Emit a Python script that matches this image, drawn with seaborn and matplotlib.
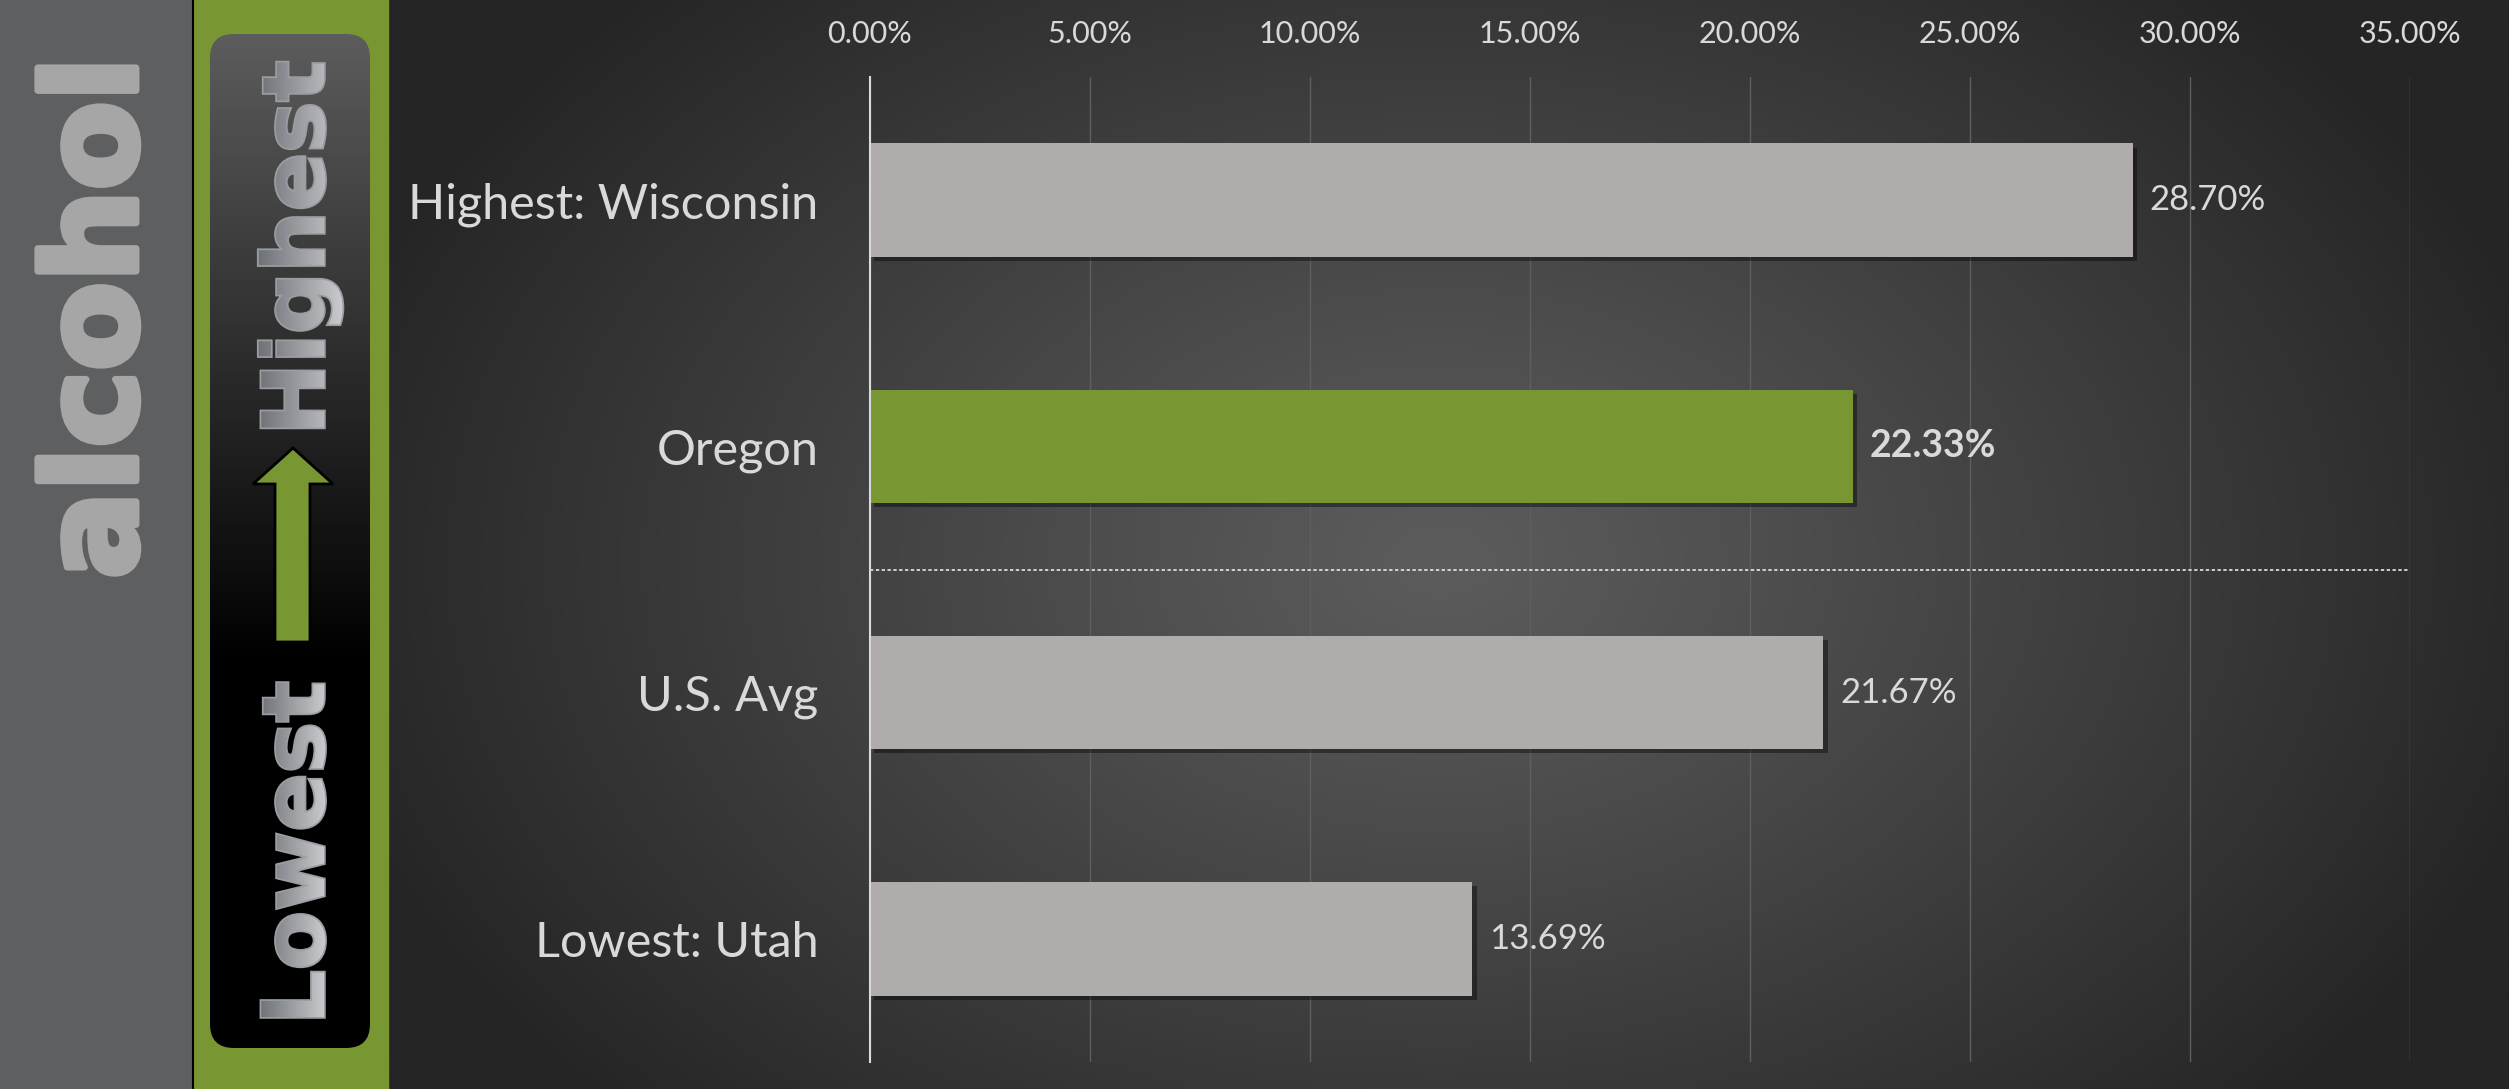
import numpy as np
import matplotlib
matplotlib.use("Agg")
import matplotlib.pyplot as plt
import matplotlib.patheffects as pe
from matplotlib.patches import Rectangle, FancyBboxPatch, Polygon, PathPatch
from matplotlib.textpath import TextPath
from matplotlib.font_manager import FontProperties
from matplotlib.transforms import Affine2D
import seaborn as sns

# datos del grafico
categorias = ["Highest: Wisconsin", "Oregon", "U.S. Avg", "Lowest: Utah"]
valores = [0.2870, 0.2233, 0.2167, 0.1369]
destacado = "Oregon"
ticks_x = [0.00, 0.05, 0.10, 0.15, 0.20, 0.25, 0.30, 0.35]
titulo = "alcohol"
texto_alto = "Highest"
texto_bajo = "Lowest"

VERDE = "#789632"
GRIS_BARRA = "#b0acab"
TEXTO = "#d9d9d9"

sns.set_style("white")
plt.rcParams["font.family"] = ["Lato", "DejaVu Sans"]

W, H = 2509, 1089
fig = plt.figure(figsize=(W / 100, H / 100), dpi=100)

# fondo con degradado radial oscuro
ax_bg = fig.add_axes([0, 0, 1, 1])
yy, xx = np.mgrid[0:H:4, 0:W:4]
d = np.sqrt(((xx - 1440) / 1150) ** 2 + ((yy - 560) / 800) ** 2)
nivel = (0x5c - (0x5c - 0x25) * np.clip(d, 0, 1) ** 1.1) / 255
fondo = np.dstack([nivel, nivel, nivel])
ax_bg.imshow(fondo, extent=[0, W, H, 0], aspect="auto", interpolation="bilinear")

# paneles laterales
ax_bg.add_patch(Rectangle((0, 0), 193, H, color="#5e5f61", zorder=2))
ax_bg.add_patch(Rectangle((193, 0), 195, H, color=VERDE, zorder=2))
ax_bg.plot([193, 193], [0, H], color="black", lw=1.5, zorder=3)

# caja redondeada con degradado vertical
caja = FancyBboxPatch((210, 34), 160, 1014, boxstyle="round,pad=0,rounding_size=24",
                      facecolor="none", edgecolor="none", zorder=3)
ax_bg.add_patch(caja)
t = np.linspace(0, 1, 256)
g = np.clip(0x5c / 255 * (1 - t / 0.62), 0, 1)
g2 = np.repeat(g[:, None], 4, axis=1)
grad_caja = np.dstack([g2, g2, g2])
im = ax_bg.imshow(grad_caja, extent=[210, 370, 1048, 34], aspect="auto", zorder=3)
im.set_clip_path(caja)

ax_bg.text(136, 318, titulo, rotation=90, rotation_mode="anchor", ha="center", va="baseline",
           fontsize=93, fontweight="bold", color="#a6a6a6", family="DejaVu Sans", zorder=4,
           path_effects=[pe.withStroke(linewidth=5, foreground="#a6a6a6")])

# textos verticales con degradado horizontal
fuente = FontProperties(family="DejaVu Sans", weight="bold")
c_izq = np.array([0x6c, 0x6f, 0x74]) / 255
c_der = np.array([0xcc, 0xce, 0xd1]) / 255


def texto_degradado(txt, xb, yc):
    tp = TextPath((0, 0), txt, size=86, prop=fuente)
    bb = tp.get_extents()
    uc = (bb.x0 + bb.x1) / 2
    tr = Affine2D().translate(-uc, 0) + Affine2D(np.array([[0, -1, xb], [-1, 0, yc], [0, 0, 1]]))
    ruta = tr.transform_path(tp)
    borde = PathPatch(ruta, facecolor="#9a9da1", edgecolor="#9a9da1", lw=2.5, zorder=4)
    ax_bg.add_patch(borde)
    clip = PathPatch(ruta, facecolor="none", edgecolor="none", zorder=4)
    ax_bg.add_patch(clip)
    s = np.linspace(0, 1, 128)[None, :, None]
    grad = c_izq[None, None, :] * (1 - s) + c_der[None, None, :] * s
    grad = np.repeat(grad, 4, axis=0)
    e = ruta.get_extents()
    img = ax_bg.imshow(grad, extent=[e.x0 - 3, e.x1 + 3, e.y1 + 3, e.y0 - 3], aspect="auto", zorder=5)
    img.set_clip_path(clip)


texto_degradado(texto_alto, 324, 245)
texto_degradado(texto_bajo, 324, 850)

# flecha verde
flecha = Polygon([(293, 448), (333, 484), (310, 484), (310, 642), (275, 642), (275, 484), (253, 484)],
                 closed=True, facecolor=VERDE, edgecolor="black", lw=2, zorder=4)
ax_bg.add_patch(flecha)

ax_bg.set_xlim(0, W)
ax_bg.set_ylim(H, 0)
ax_bg.axis("off")

# grafico de barras principal
ax = fig.add_axes([870 / W, 1 - 1062 / H, (2410 - 870) / W, (1062 - 77) / H])
ax.set_facecolor("none")
colores = {c: (VERDE if c == destacado else GRIS_BARRA) for c in categorias}
sns.barplot(x=valores, y=categorias, hue=categorias, palette=colores, orient="h",
            width=0.46, saturation=1, linewidth=0, edgecolor="none",
            legend=False, ax=ax, zorder=3)

for barra in ax.patches:
    barra.set_path_effects([pe.SimplePatchShadow(offset=(3, -3), shadow_rgbFace="black", alpha=0.4),
                            pe.Normal()])

for i, (c, v) in enumerate(zip(categorias, valores)):
    negrita = c == destacado
    ax.annotate(f"{v * 100:.2f}%", xy=(v, i), xytext=(12, 0), textcoords="offset points",
                va="center", ha="left", fontsize=27 if negrita else 25, color=TEXTO,
                fontweight="bold" if negrita else "normal")

ax.hlines(1.5, 0, 0.35, colors="#e8e8e8", linestyles=(0, (2, 1.5)), lw=1.2, zorder=4)

ax.set_xlim(0, 0.35)
ax.set_ylim(3.5, -0.5)
ax.xaxis.tick_top()
ax.set_xticks(ticks_x)
ax.set_xticklabels([f"{x * 100:.2f}%" for x in ticks_x])
ax.tick_params(axis="x", length=0, pad=21, labelsize=22, colors=TEXTO)
ax.tick_params(axis="y", length=0, pad=37, labelsize=35, colors=TEXTO)
ax.set_xlabel("")
ax.set_ylabel("")
ax.grid(axis="x", color="#5f5f5f", lw=1)
ax.grid(axis="y", visible=False)
ax.set_axisbelow(True)
for lado in ["top", "right", "bottom"]:
    ax.spines[lado].set_visible(False)
ax.spines["left"].set_color(TEXTO)
ax.spines["left"].set_linewidth(1.5)
ax.spines["left"].set_zorder(5)

fig.savefig("out.png", dpi=100)
plt.close()
